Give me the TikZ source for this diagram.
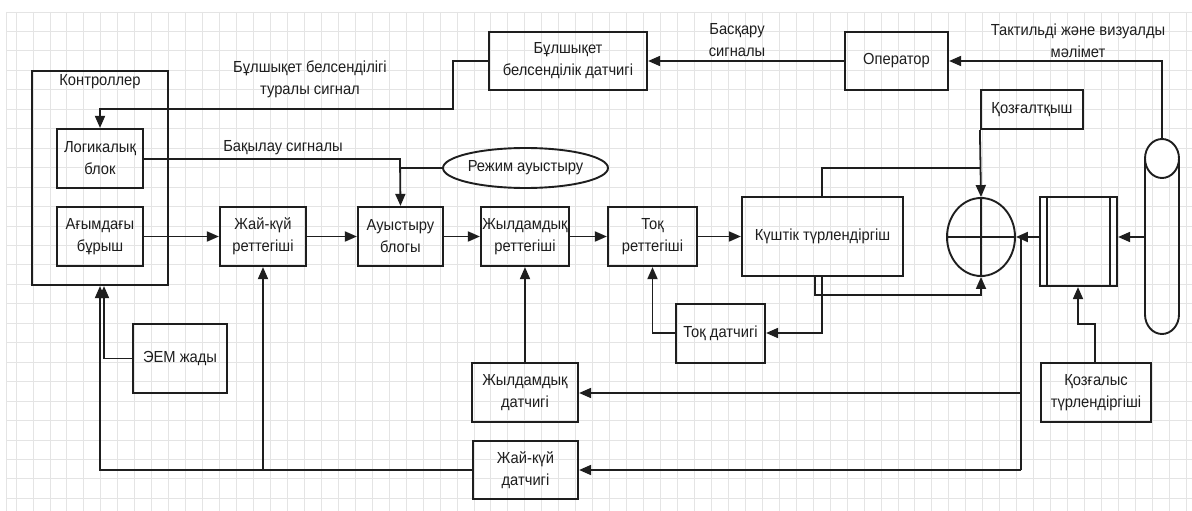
\documentclass[tikz,border=0pt]{standalone}
\usepackage{fontspec}
\setmainfont{Liberation Sans}[FakeStretch=0.92]
\usetikzlibrary{arrows.meta,shapes.geometric,calc}
\definecolor{gridc}{HTML}{E4E4E4}
\definecolor{inkc}{HTML}{1E1E1E}
\begin{document}
\begin{tikzpicture}[x=1pt,y=-1pt,
  every node/.style={font=\fontsize{16}{22}\selectfont, text=inkc, align=center, inner sep=0pt},
  blk/.style={draw=inkc, line width=2.2pt, rectangle},
  conn/.style={draw=inkc, line width=1.8pt},
  arr/.style={conn, -{Triangle[length=12pt,width=10pt]}},
  lbl/.style={text=inkc}]
\useasboundingbox (0,0) rectangle (1192,511);
% background grid
\fill[white] (0,0) rectangle (1192,511);
\draw[gridc, line width=0.8pt] (6,12) -- (6,511);
\foreach \k in {0,...,69} \draw[gridc, line width=0.8pt] ({16+16.96*\k},12) -- ({16+16.96*\k},511);
\foreach \k in {0,...,25} \draw[gridc, line width=0.8pt] (6,{12+19.45*\k}) -- (1192,{12+19.45*\k});

% controller and its inner blocks
\node[blk, minimum width=136pt, minimum height=214pt] (ctrl) at (100,178) {};
\node (ctrltxt) at (100,82) {Контроллер};
\node[blk, minimum width=86pt, minimum height=59pt] (logic) at (100,158.5) {Логикалық\\блок};
\node[blk, minimum width=86pt, minimum height=59pt] (angle) at (100,236.5) {Ағымдағы\\бұрыш};

% forward chain
\node[blk, minimum width=86pt, minimum height=59pt] (posreg) at (263,236.5) {Жай-күй\\реттегіші};
\node[blk, minimum width=85pt, minimum height=59pt] (switch) at (400.5,236.5) {Ауыстыру\\блогы};
\node[blk, minimum width=88pt, minimum height=59pt] (spdreg) at (525,236.5) {Жылдамдық\\реттегіші};
\node[blk, minimum width=89pt, minimum height=59pt] (curreg) at (652.5,236.5) {Тоқ\\реттегіші};
\node[blk, minimum width=161pt, minimum height=79pt] (conv) at (822.5,236.5) {Күштік түрлендіргіш};

% summing junction
\node[draw=inkc, line width=1.9pt, ellipse, minimum width=68pt, minimum height=78pt] (sum) at (981,237) {};
\draw[conn] (sum.north) -- (sum.south);
\draw[conn] (sum.west) -- (sum.east);

\node[blk, minimum width=102pt, minimum height=39pt] (motor) at (1032,109.5) {Қозғалтқыш};

% gear block with double side walls
\node[blk, minimum width=77pt, minimum height=89pt] (gear) at (1078.5,241.5) {};
\draw[conn, line width=2pt] ([xshift=8pt]gear.north west) -- ([xshift=8pt]gear.south west);
\draw[conn, line width=2pt] ([xshift=-8pt]gear.north east) -- ([xshift=-8pt]gear.south east);

% limb (capsule)
\node[minimum width=34pt, minimum height=195pt] (cyl) at (1162,236.5) {};
\draw[inkc, line width=1.9pt] (1145,158.5) -- (1145,314.5) arc[start angle=180, end angle=360, x radius=17pt, y radius=19.5pt] -- (1179,158.5);
\draw[inkc, line width=1.9pt, fill=white] (1162,158.5) ellipse [x radius=17pt, y radius=19.5pt];

% top row
\node[blk, minimum width=158pt, minimum height=58pt] (bmsens) at (568,61) {Бұлшықет\\белсенділік датчигі};
\node[blk, minimum width=103pt, minimum height=58pt] (oper) at (896.5,61) {Оператор};
\node[draw=inkc, line width=1.9pt, ellipse, minimum width=165pt, minimum height=40pt] (mode) at (525.5,168) {Режим ауыстыру};

% sensors and feedback blocks
\node[blk, minimum width=89pt, minimum height=59pt] (cursens) at (720.5,333.5) {Тоқ датчигі};
\node[blk, minimum width=106pt, minimum height=59pt] (spdsens) at (525,392.5) {Жылдамдық\\датчигі};
\node[blk, minimum width=105pt, minimum height=58pt] (possens) at (525.5,470) {Жай-күй\\датчигі};
\node[blk, minimum width=94pt, minimum height=69pt] (mem) at (180,358.5) {ЭЕМ жады};
\node[blk, minimum width=110pt, minimum height=59pt] (motconv) at (1096,392.5) {Қозғалыс\\түрлендіргіші};

% signal labels
\node[lbl] (lblbm) at (310,79) {Бұлшықет белсенділігі\\туралы сигнал};
\node[lbl] (lblctl) at (283,148) {Бақылау сигналы};
\node[lbl] (lblcmd) at (737,40.5) {Басқару\\сигналы};
\node[lbl] (lblfb) at (1078,40.5) {Тактильді және визуалды\\мәлімет};

% junction points
\coordinate (jbm1) at (453,61);
\coordinate (jbm2) at (453,109);
\coordinate (jctl) at (400,159);
\coordinate (jmode) at (400,168);
\coordinate (jconvtop) at (981,168);
\coordinate (jconvsum) at (981,295);
\coordinate (jcur) at (822,333);
\coordinate (jcurup) at (652.5,333);
\coordinate (jfb) at (1021,237);
\coordinate (jfbspd) at (1021,393);
\coordinate (jfbpos) at (1021,470);
\coordinate (jpos) at (100,470);
\coordinate (jposreg) at (263,470);
\coordinate (jmem) at (104,358.5);
\coordinate (jmc1) at (1095,324);
\coordinate (jmc2) at (1078,324);
\coordinate (jtop) at (1162,61);

% connectors
\draw[arr] (oper.west) -- (bmsens.east);
\draw[arr] (cyl.north) -- (jtop) -- (oper.east);
\draw[arr] (bmsens.west) -- (jbm1) -- (jbm2) -| (logic.north);
\draw[arr] (logic.east |- jctl) -- (jctl) -- (switch.north);
\draw[conn] (mode.west) -- (jmode);
\draw[arr] (angle.east) -- (posreg.west);
\draw[arr] (posreg.east) -- (switch.west);
\draw[arr] (switch.east) -- (spdreg.west);
\draw[arr] (spdreg.east) -- (curreg.west);
\draw[arr] (curreg.east) -- (conv.west);
\draw[arr] (motor.south west) -- (sum.north);
\draw[conn] (conv.north -| jcur) |- (jconvtop);
\draw[arr] ([xshift=-7.5pt]conv.south) |- (jconvsum) -- (sum.south);
\draw[arr] (conv.south -| jcur) -- (jcur) -- (cursens.east |- jcur);
\draw[arr] (cursens.west |- jcur) -- (jcurup) -- (curreg.south);
\draw[arr] (gear.west |- jfb) -- (sum.east);
\draw[arr] (cyl.west |- jfb) -- (gear.east |- jfb);
\draw[conn] (jfb) -- (jfbpos);
\draw[arr] (jfbspd) -- (spdsens.east |- jfbspd);
\draw[arr] (jfbpos) -- (possens.east);
\draw[arr] (motconv.north -| jmc1) -- (jmc1) -- (jmc2) -- (gear.south -| jmc2);
\draw[arr] (spdsens.north) -- (spdreg.south);
\draw[arr] (possens.west) -- (jpos) -- (ctrl.south);
\draw[arr] (jposreg) -- (posreg.south);
\draw[arr] (mem.west) -- (jmem) -- (ctrl.south -| jmem);
\end{tikzpicture}
\end{document}
